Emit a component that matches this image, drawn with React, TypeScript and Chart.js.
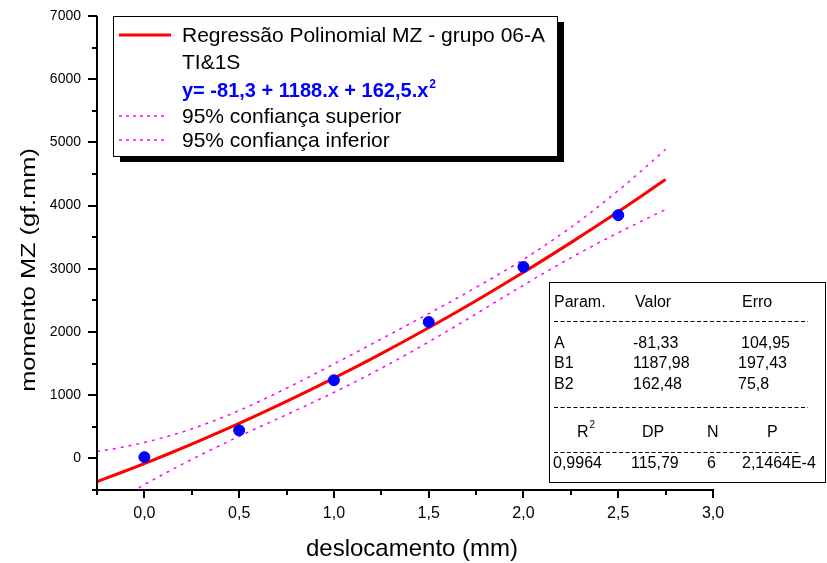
import React, { useEffect, useRef } from "react";
import { Chart, registerables } from "chart.js";

Chart.register(...registerables);

// ---- data ----
const POINT_X = [0, 0.5, 1.0, 1.5, 2.0, 2.5];
const POINT_Y = [20, 444, 1237, 2159, 3030, 3849];

const CURVE_X = [-0.25, -0.125, 0, 0.125, 0.25, 0.5, 0.75, 1, 1.25, 1.5, 1.75, 2, 2.25, 2.375, 2.5, 2.625, 2.75];
const FIT_Y = [-368.1, -227.3, -81.3, 69.7, 225.9, 553.3, 901.1, 1269.2, 1657.6, 2066.3, 2495.4, 2944.7, 3414.4, 3656.8, 3904.3, 4156.9, 4414.6];
const UPPER_Y = [108.4, 172.5, 252.7, 350.2, 466.6, 757.5, 1110.3, 1493.8, 1889.1, 2290.9, 2704.6, 3148.9, 3655.1, 3937.3, 4238.3, 4556.7, 4891.1];
const LOWER_Y = [-844.6, -627.1, -415.3, -210.8, -14.8, 349.1, 691.9, 1044.6, 1426.1, 1841.7, 2286.2, 2740.5, 3173.7, 3376.3, 3570.3, 3757.1, 3938.1];

const X_TITLE = "deslocamento (mm)";
const Y_TITLE = "momento MZ (gf.mm)";

const LEGEND_FIT = ["Regressão Polinomial MZ - grupo 06-A", "TI&1S"];
const LEGEND_EQ = "y= -81,3 + 1188.x + 162,5.x";
const LEGEND_UP = "95% confiança superior";
const LEGEND_LO = "95% confiança inferior";

const TABLE_HEAD = ["Param.", "Valor", "Erro"];
const TABLE_PARAMS = ["A", "B1", "B2"];
const TABLE_VALUES = ["-81,33", "1187,98", "162,48"];
const TABLE_ERRORS = ["104,95", "197,43", "75,8"];
const STATS_HEAD = ["R", "DP", "N", "P"];
const STATS_VALUES = ["0,9964", "115,79", "6", "2,1464E-4"];

const FONT = '"Liberation Sans", Arial, Helvetica, sans-serif';

const zip = (xs: number[], ys: number[]) => xs.map((x, i) => ({ x, y: ys[i] }));

function txt(
  ctx: CanvasRenderingContext2D,
  s: string,
  x: number,
  y: number,
  size: number,
  o: { bold?: boolean; color?: string; align?: CanvasTextAlign; sx?: number } = {}
) {
  ctx.save();
  ctx.font = `${o.bold ? "bold " : ""}${size}px ${FONT}`;
  ctx.fillStyle = o.color || "#000";
  ctx.textAlign = o.align || "left";
  ctx.textBaseline = "alphabetic";
  ctx.translate(x, y);
  ctx.scale(o.sx || 1, 1);
  ctx.fillText(s, 0, 0);
  const w = ctx.measureText(s).width * (o.sx || 1);
  ctx.restore();
  return w;
}

const overlay = {
  id: "overlay",
  afterDraw(chart: any) {
    const ctx: CanvasRenderingContext2D = chart.ctx;
    const { left, right, top, bottom } = chart.chartArea;
    const xs = chart.scales.x;
    const ys = chart.scales.y;
    ctx.save();
    // axes
    ctx.strokeStyle = "#000";
    ctx.lineWidth = 2;
    ctx.beginPath();
    ctx.moveTo(left, top);
    ctx.lineTo(left, bottom + 1);
    ctx.moveTo(left - 1, bottom);
    ctx.lineTo(right + 1, bottom);
    ctx.stroke();
    ctx.beginPath();
    for (const t of xs.ticks) {
      const px = Math.round(xs.getPixelForValue(t.value));
      const major = Math.abs(t.value * 2 - Math.round(t.value * 2)) < 1e-6;
      ctx.moveTo(px, bottom);
      ctx.lineTo(px, bottom + (major ? 8 : 5));
    }
    for (const t of ys.ticks) {
      const py = Math.round(ys.getPixelForValue(t.value));
      const major = Math.abs(t.value % 1000) < 1e-6;
      ctx.moveTo(left, py);
      ctx.lineTo(left - (major ? 9 : 5), py);
    }
    ctx.stroke();

    // axis titles
    txt(ctx, X_TITLE, (left + right) / 2 + 7, 556, 24, { align: "center" });
    ctx.save();
    ctx.translate(35, 270);
    ctx.rotate(-Math.PI / 2);
    txt(ctx, Y_TITLE, 0, 0, 19.5, { align: "center", sx: 1.3 });
    ctx.restore();

    // legend box
    const lx = 113, ly = 16, lw = 444, lh = 140;
    ctx.fillStyle = "#000";
    ctx.fillRect(lx + 7, ly + 6, lw, lh);
    ctx.fillStyle = "#fff";
    ctx.fillRect(lx, ly, lw, lh);
    ctx.lineWidth = 1;
    ctx.strokeStyle = "#000";
    ctx.strokeRect(lx + 0.5, ly + 0.5, lw, lh);
    ctx.strokeStyle = "#ff0000";
    ctx.lineWidth = 3;
    ctx.beginPath();
    ctx.moveTo(119, 35);
    ctx.lineTo(171, 35);
    ctx.stroke();
    txt(ctx, LEGEND_FIT[0], 182, 42, 21);
    txt(ctx, LEGEND_FIT[1], 182, 69, 21);
    const we = txt(ctx, LEGEND_EQ, 182, 97, 20, { bold: true, color: "#0000ff" });
    txt(ctx, "2", 182 + we + 1, 88, 12, { bold: true, color: "#0000ff" });
    ctx.strokeStyle = "#ff00ff";
    ctx.lineWidth = 1.5;
    ctx.setLineDash([3, 4]);
    ctx.beginPath();
    ctx.moveTo(119, 116);
    ctx.lineTo(166, 116);
    ctx.moveTo(119, 140);
    ctx.lineTo(166, 140);
    ctx.stroke();
    ctx.setLineDash([]);
    txt(ctx, LEGEND_UP, 182, 123, 21);
    txt(ctx, LEGEND_LO, 182, 147, 21);

    // parameter table
    const tx = 549, ty = 282, tw = 276, th = 200;
    ctx.fillStyle = "#fff";
    ctx.fillRect(tx, ty, tw, th);
    ctx.strokeStyle = "#000";
    ctx.lineWidth = 1;
    ctx.strokeRect(tx + 0.5, ty + 0.5, tw, th);
    const fs = 16;
    txt(ctx, TABLE_HEAD[0], 554, 307, fs);
    txt(ctx, TABLE_HEAD[1], 635, 307, fs);
    txt(ctx, TABLE_HEAD[2], 742, 307, fs);
    const rowsY = [348, 368, 389];
    const errX = [741, 738, 738];
    TABLE_PARAMS.forEach((p, i) => {
      txt(ctx, p, 554, rowsY[i], fs);
      txt(ctx, TABLE_VALUES[i], 633, rowsY[i], fs);
      txt(ctx, TABLE_ERRORS[i], errX[i], rowsY[i], fs);
    });
    const statX = [577, 642, 707, 767];
    STATS_HEAD.forEach((s, i) => {
      const w = txt(ctx, s, statX[i], 437, fs);
      if (i === 0) txt(ctx, "2", statX[i] + w + 1, 428, 10);
    });
    const valX = [553, 631, 707, 742];
    STATS_VALUES.forEach((s, i) => txt(ctx, s, valX[i], 468, fs));
    ctx.setLineDash([4, 2.5]);
    ctx.beginPath();
    ctx.moveTo(554, 321.5);
    ctx.lineTo(808, 321.5);
    ctx.moveTo(554, 407.5);
    ctx.lineTo(808, 407.5);
    ctx.moveTo(554, 452.5);
    ctx.lineTo(801, 452.5);
    ctx.stroke();
    ctx.setLineDash([]);
    ctx.restore();
  },
};

export default function App() {
  const ref = useRef<HTMLCanvasElement | null>(null);
  useEffect(() => {
    if (!ref.current) return;
    const chart = new Chart(ref.current, {
      type: "scatter",
      data: {
        datasets: [
          {
            label: "dados",
            data: zip(POINT_X, POINT_Y),
            backgroundColor: "#0000ff",
            borderColor: "#0000ff",
            pointRadius: 5.5,
            showLine: false,
          },
          {
            label: "Regressão",
            data: zip(CURVE_X, FIT_Y),
            showLine: true,
            borderColor: "#ff0000",
            borderWidth: 3,
            pointRadius: 0,
            cubicInterpolationMode: "monotone",
          },
          {
            label: "superior",
            data: zip(CURVE_X, UPPER_Y),
            showLine: true,
            borderColor: "#ff00ff",
            borderWidth: 1.5,
            borderDash: [3, 5],
            pointRadius: 0,
            cubicInterpolationMode: "monotone",
          },
          {
            label: "inferior",
            data: zip(CURVE_X, LOWER_Y),
            showLine: true,
            borderColor: "#ff00ff",
            borderWidth: 1.5,
            borderDash: [3, 5],
            pointRadius: 0,
            cubicInterpolationMode: "monotone",
          },
        ],
      },
      options: {
        responsive: true,
        maintainAspectRatio: false,
        animation: false,
        layout: { padding: { top: 16, right: 114, left: 0, bottom: 0 } },
        plugins: { legend: { display: false }, tooltip: { enabled: false } },
        scales: {
          x: {
            type: "linear",
            min: -0.25,
            max: 3,
            afterFit: (s: any) => {
              s.height = 73;
            },
            border: { display: false },
            grid: { display: true, drawOnChartArea: false, color: "rgba(0,0,0,0)", tickLength: 8 },
            ticks: {
              stepSize: 0.25,
              autoSkip: false,
              maxRotation: 0,
              padding: 6,
              color: "#000",
              font: { family: FONT, size: 16 },
              callback: (v: any) => {
                const n = Number(v);
                return Math.abs(n * 2 - Math.round(n * 2)) < 1e-6 ? n.toFixed(1).replace(".", ",") : "";
              },
            },
          },
          y: {
            type: "linear",
            min: -500,
            max: 7000,
            afterFit: (s: any) => {
              s.width = 97;
            },
            border: { display: false },
            grid: { display: true, drawOnChartArea: false, color: "rgba(0,0,0,0)", tickLength: 9 },
            ticks: {
              stepSize: 500,
              autoSkip: false,
              padding: 7,
              color: "#000",
              font: { family: FONT, size: 14 },
              callback: (v: any) => {
                const n = Number(v);
                return Math.abs(n % 1000) < 1e-6 ? String(n) : "";
              },
            },
          },
        },
      },
      plugins: [overlay],
    } as any);
    return () => chart.destroy();
  }, []);
  return (
    <div style={{ position: "absolute", left: 0, top: 0, width: 827, height: 563, background: "#fff" }}>
      <canvas ref={ref} />
    </div>
  );
}
